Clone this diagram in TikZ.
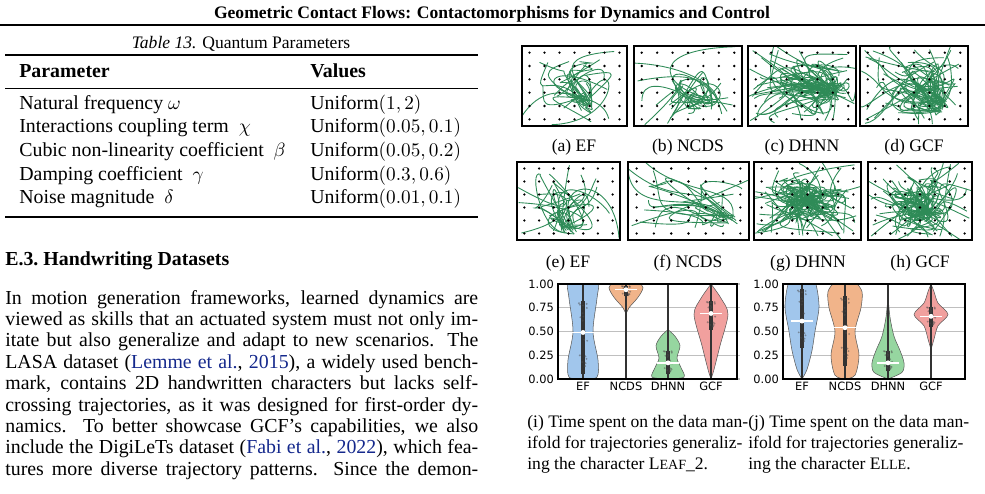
\documentclass[tikz,border=0pt]{standalone}
\usepackage{fontspec}
\setmainfont{Liberation Serif}
\setsansfont{DejaVu Sans}
\usepackage{amsmath}
\usepackage{xcolor}
\usetikzlibrary{positioning}

\definecolor{citeblue}{RGB}{20,40,140}
\definecolor{flowgreen}{RGB}{46,139,87}
\definecolor{vblue}{RGB}{161,198,236}
\definecolor{vorange}{RGB}{241,180,138}
\definecolor{vgreen}{RGB}{150,214,160}
\definecolor{vred}{RGB}{241,160,158}

\tikzset{
  line/.style={anchor=base west, inner sep=0pt},
  flow/.style={flowgreen, line width=0.5pt},
  subcap/.style={font=\fontsize{10}{12}\selectfont},
  body/.style={font=\fontsize{11.3}{13}\selectfont},
  tick/.style={font=\sffamily\fontsize{6.5}{7}\selectfont, inner sep=1pt},
}
\newcommand\smc[1]{{\fontsize{8}{10}\selectfont #1}}

% stream plot: x0 y0 x1 y1 ncurves seed target-x target-y
\newcommand\flowbox[8]{%
  \begin{scope}
    \clip (#1,#2) rectangle (#3,#4);
    \pgfmathsetseed{#6}
    \foreach \k in {1,...,#5}{
      \pgfmathsetmacro\ax{#1+rnd*(#3-#1)}
      \pgfmathsetmacro\ay{#2+rnd*(#4-#2)}
      \pgfmathsetmacro\bx{#1+rnd*(#3-#1)}
      \pgfmathsetmacro\by{#2+rnd*(#4-#2)}
      \pgfmathsetmacro\cx{#1+rnd*(#3-#1)}
      \pgfmathsetmacro\cy{#2+rnd*(#4-#2)}
      \pgfmathsetmacro\dx{#1+#7*(#3-#1)+8*rand}
      \pgfmathsetmacro\dy{#2+#8*(#4-#2)+6*rand}
      \draw[flow] (\ax,\ay) .. controls (\bx,\by) and (\cx,\cy) .. (\dx,\dy);
    }
    \foreach \i in {1,...,7}{
      \foreach \j in {1,...,6}{
        \fill ({#1+(\i-0.5)*(#3-#1)/7},{#2+(\j-0.5)*(#4-#2)/6}) circle (1.3);
      }
    }
  \end{scope}
  \draw[line width=0.6pt] (#1,#2) rectangle (#3,#4);
}

% violin: centre, colour, right half, q1, q3, median
\newcommand\violin[6]{%
  \foreach \s in {1,-1}{
    \fill[#2, shift={(#1,0)}, xscale=\s] plot[smooth] coordinates {#3};
    \draw[gray!70!black, line width=0.3pt, shift={(#1,0)}, xscale=\s] plot[smooth] coordinates {#3};
  }
  \draw[gray!40!black, line width=0.6pt] (#1,0) -- (#1,1);
  \draw[gray!40!black, line width=2.6pt] (#1,#4) -- (#1,#5);
  \pgfmathsetseed{7}
  \foreach \k in {1,...,18}{
    \fill[gray!60!black, opacity=.5] ({#1+5*rand},{#4+rnd*(#5-#4)}) circle (0.6pt);
  }
  \draw[white, line width=0.8pt] ({#1-11},#6) -- ({#1+11},#6);
  \fill[white] (#1,#6) circle (1.4pt);
}

% violin axes: left edge
\newcommand\violinaxes[1]{%
  \foreach \v/\t in {0/0.00,0.25/0.25,0.5/0.50,0.75/0.75,1/1.00}{
    \draw[gray!50, line width=0.7pt] (#1,\v) -- ++(182,0);
    \node[tick, anchor=east] at (#1-2,\v) {\t};
  }
}

\begin{document}
\begin{tikzpicture}[x=0.02cm, y=-0.02cm, font=\fontsize{10}{12}\selectfont]
  \useasboundingbox (0,0) rectangle (985,494);

  % ===== running head =====
  \node[font=\bfseries] (head) at (492,14) {Geometric Contact Flows: Contactomorphisms for Dynamics and Control};
  \draw[line width=0.9pt] (0,25) -- (985,25);

  % ===== table =====
  \node (tabcap) at (241,44) {\textit{Table 13.} Quantum Parameters};
  \draw[line width=0.8pt] (5,55) -- (478,55);
  \node[line, font=\bfseries\fontsize{11.3}{13}\selectfont] (hpar) at (19,77) {Parameter};
  \node[line, font=\bfseries\fontsize{11.3}{13}\selectfont] (hval) at (310,77) {Values};
  \draw[line width=0.5pt] (5,88) -- (478,88);
  \foreach \n/\v [count=\r from 0] in {
      Natural frequency $\omega$/{(1,2)},
      Interactions coupling term\ \ $\chi$/{(0.05,0.1)},
      Cubic non-linearity coefficient\ \ $\beta$/{(0.05,0.2)},
      Damping coefficient\ \ $\gamma$/{(0.3,0.6)},
      Noise magnitude\ \ $\delta$/{(0.01,0.1)}}{
    \node[line, body] (par\r) at (19,{109+23.7*\r}) {\n};
    \node[line, body] (val\r) at (310,{109+23.7*\r}) {$\mathrm{Uniform}\v$};
  }
  \draw[line width=0.8pt] (5,217) -- (478,217);

  % ===== section text =====
  \node[line, font=\bfseries\fontsize{11.3}{13}\selectfont] (sec) at (5,265) {E.3.\ Handwriting Datasets};
  \foreach \t [count=\r from 0] in {
      {In motion generation frameworks, learned dynamics are},
      {viewed as skills that an actuated system must not only im-},
      {itate but also generalize and adapt to new scenarios. The},
      {LASA dataset (\textcolor{citeblue}{Lemme et al.}, \textcolor{citeblue}{2015}), a widely used bench-},
      {mark, contains 2D handwritten characters but lacks self-},
      {crossing trajectories, as it was designed for first-order dy-},
      {namics. To better showcase GCF's capabilities, we also},
      {include the DigiLeTs dataset (\textcolor{citeblue}{Fabi et al.}, \textcolor{citeblue}{2022}), which fea-},
      {tures more diverse trajectory patterns. Since the demon-}}{
    \node[line, body] (txt\r) at (5,{304+21.4*\r}) {\makebox[9.46cm][s]{\t}};
  }

  % ===== stream plots, row 1 =====
  \flowbox{522}{46}{627}{126}{24}{11}{0.6}{0.7}
  \flowbox{634}{46}{742}{126}{20}{12}{0.66}{0.72}
  \flowbox{748}{46}{856}{126}{60}{13}{0.75}{0.55}
  \flowbox{860}{46}{968}{126}{50}{14}{0.7}{0.75}
  \node[subcap] (capa) at (574,147) {(a) EF};
  \node[subcap] (capb) at (688,147) {(b) NCDS};
  \node[subcap] (capc) at (802,147) {(c) DHNN};
  \node[subcap] (capd) at (914,147) {(d) GCF};

  % ===== stream plots, row 2 =====
  \flowbox{517}{162}{620}{240}{24}{21}{0.5}{0.85}
  \flowbox{628}{162}{749}{240}{20}{22}{0.85}{0.75}
  \flowbox{754}{162}{861}{240}{70}{23}{0.5}{0.5}
  \flowbox{868}{162}{972}{240}{60}{24}{0.55}{0.65}
  \node[subcap] (cape) at (568,263) {(e) EF};
  \node[subcap] (capf) at (688,263) {(f) NCDS};
  \node[subcap] (capg) at (808,263) {(g) DHNN};
  \node[subcap] (caph) at (920,263) {(h) GCF};

  % ===== violins, left =====
  \begin{scope}[shift={(0,379)}, y=1.9cm]
    \violinaxes{558}
    \begin{scope}
      \clip (558,0) rectangle (737,1);
      \violin{583}{vblue}{(0,0) (14,0.02) (15,0.2) (10,0.5) (14,0.85) (15,1.02) (0,1.05)}{0.05}{0.82}{0.49}
      \violin{626}{vorange}{(0,0.68) (3,0.75) (12,0.86) (17,0.96) (12,1.02) (0,1.04)}{0.87}{0.98}{0.94}
      \violin{668}{vgreen}{(0,0) (16,0.02) (13,0.12) (9,0.22) (12,0.35) (7,0.45) (0,0.52)}{0.05}{0.3}{0.17}
      \violin{711}{vred}{(0,0.0) (3,0.1) (9,0.35) (17,0.68) (10,0.85) (0,1.0)}{0.52}{0.82}{0.69}
    \end{scope}
    \draw[line width=0.6pt] (558,0) rectangle (737,1);
    \foreach \x/\c in {583/EF,626/NCDS,668/DHNN,711/GCF}{
      \node[tick, anchor=north] at (\x,-0.01) {\c};
    }

    % ===== violins, right =====
    \violinaxes{783}
    \begin{scope}
      \clip (783,0) rectangle (965,1);
      \violin{802}{vblue}{(0,0) (5,0.1) (10,0.3) (13,0.5) (17,0.75) (15,0.95) (12,1.02) (0,1.04)}{0.33}{0.95}{0.61}
      \violin{845}{vorange}{(0,0) (10,0.04) (14,0.25) (10,0.5) (16,0.75) (17,0.92) (10,1.02) (0,1.04)}{0.14}{0.87}{0.54}
      \violin{888}{vgreen}{(0,0) (14,0.07) (16,0.17) (12,0.3) (6,0.45) (2,0.65) (0,0.87)}{0.08}{0.3}{0.17}
      \violin{931}{vred}{(0,0.31) (3,0.42) (7,0.56) (17,0.68) (7,0.8) (3,0.92) (0,1.0)}{0.55}{0.76}{0.66}
    \end{scope}
    \draw[line width=0.6pt] (783,0) rectangle (965,1);
    \foreach \x/\c in {802/EF,845/NCDS,888/DHNN,931/GCF}{
      \node[tick, anchor=north] at (\x,-0.01) {\c};
    }
  \end{scope}

  % ===== violin captions =====
  \node[line, subcap] (capi1) at (527,427) {(i) Time spent on the data man-};
  \node[line, subcap] (capi2) at (527,448) {ifold for trajectories generaliz-};
  \node[line, subcap] (capi3) at (527,469) {ing the character L\smc{EAF}\_2.};
  \node[line, subcap] (capj1) at (748,427) {(j) Time spent on the data man-};
  \node[line, subcap] (capj2) at (748,448) {ifold for trajectories generaliz-};
  \node[line, subcap] (capj3) at (748,469) {ing the character E\smc{LLE}.};
\end{tikzpicture}
\end{document}
